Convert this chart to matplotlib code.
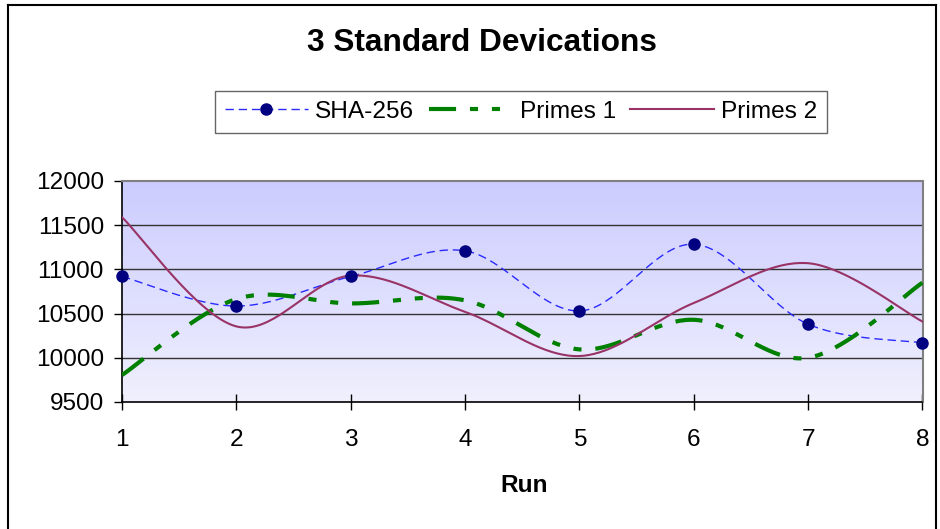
import numpy as np
import matplotlib
matplotlib.use("Agg")
import matplotlib.pyplot as plt
from matplotlib.lines import Line2D

plt.rcParams['font.family'] = ['Liberation Sans', 'DejaVu Sans']
plt.rcParams['lines.scale_dashes'] = False

# Data
runs = [1, 2, 3, 4, 5, 6, 7, 8]
sha256 = [10920, 10585, 10920, 11210, 10530, 11285, 10380, 10170]
primes1 = [9805, 10665, 10615, 10650, 10095, 10430, 10000, 10850]
primes2 = [11590, 10355, 10930, 10520, 10020, 10620, 11070, 10410]
y_ticks = [9500, 10000, 10500, 11000, 11500, 12000]
title = "3 Standard Devications"
x_title = "Run"

W, H = 940, 529
fig = plt.figure(figsize=(W / 100, H / 100), dpi=100)
fig.patch.set_facecolor('white')


def px(x, y):
    return x / W, 1 - y / H


def smooth(xs, ys, n=40):
    """Bezier smoothing through every point (Catmull-Rom style tangents)."""
    P = np.column_stack([xs, ys]).astype(float)
    out = []
    m = len(P)
    for i in range(m - 1):
        p0 = P[max(i - 1, 0)]
        p1 = P[i]
        p2 = P[i + 1]
        p3 = P[min(i + 2, m - 1)]
        c1 = p1 + (p2 - p0) / 6
        c2 = p2 - (p3 - p1) / 6
        t = np.linspace(0, 1, n, endpoint=(i == m - 2))[:, None]
        B = (1 - t) ** 3 * p1 + 3 * (1 - t) ** 2 * t * c1 + 3 * (1 - t) * t ** 2 * c2 + t ** 3 * p2
        out.append(B)
    B = np.vstack(out)
    return B[:, 0], B[:, 1]


left, right, top, bottom = 122, 922.5, 181, 402
ax = fig.add_axes([left / W, 1 - bottom / H, (right - left) / W, (bottom - top) / H])

# gradient plot area
grad = np.linspace(0, 1, 256)[:, None]
c_top = np.array([0.80, 0.80, 1.0])
c_bot = np.array([0.94, 0.94, 0.995])
img = c_top[None, None, :] * (1 - grad[..., None]) + c_bot[None, None, :] * grad[..., None]
ax.imshow(img, extent=[1, 8, 9500, 12000], aspect='auto', origin='upper', zorder=0)

ax.set_xlim(1, 8)
ax.set_ylim(9500, 12000)

for yv in y_ticks[1:-1]:
    ax.axhline(yv, color='#333333', lw=1.0, zorder=1)

sha_style = dict(color='#2a2aff', lw=1.0, dashes=(6.0, 3.5), dash_capstyle='butt')
p1_style = dict(color='#008000', lw=3.0, dashes=(19.5, 10.0, 5.8, 10.0, 5.8, 10.0),
                dash_capstyle='butt')
p2_style = dict(color='#993366', lw=1.5)
marker_style = dict(marker='o', markersize=8, markerfacecolor='#000080',
                    markeredgecolor='#000080', linestyle='none')

xs, ys = smooth(runs, sha256)
ax.plot(xs, ys, zorder=3, **sha_style)
xs, ys = smooth(runs, primes1)
ax.plot(xs, ys, zorder=3, **p1_style)
xs, ys = smooth(runs, primes2)
ax.plot(xs, ys, zorder=3, **p2_style)
ax.plot(runs, sha256, zorder=4, clip_on=False, **marker_style)

# axes styling
for s in ['top', 'right']:
    ax.spines[s].set_color('#808080')
    ax.spines[s].set_linewidth(1.5)
ax.spines['left'].set_color('black')
ax.spines['left'].set_linewidth(1.2)
ax.spines['bottom'].set_color('black')
ax.spines['bottom'].set_linewidth(1.2)

ax.set_xticks(runs)
ax.set_xticklabels([str(r) for r in runs])
ax.set_yticks(y_ticks)
ax.set_yticklabels([str(v) for v in y_ticks])
ax.tick_params(axis='x', direction='inout', length=11.5, width=1.0, pad=14.0,
               labelsize=17.6, color='black')
ax.tick_params(axis='y', direction='out', length=5.8, width=1.0, pad=7.2,
               labelsize=17.6, color='black')

# title and axis title
fig.text(*px(482, 43), title, ha='center', va='center', fontsize=22.8,
         fontweight='bold', color='black')
fig.text(*px(524, 485), x_title, ha='center', va='center', fontsize=17.6,
         fontweight='bold', color='black')

# legend
handles = [
    Line2D([], [], marker='o', markersize=8, markerfacecolor='#000080',
           markeredgecolor='#000080', **sha_style),
    Line2D([], [], **p1_style),
    Line2D([], [], **p2_style),
]
leg = fig.legend(handles, ['SHA-256', 'Primes 1', 'Primes 2'], loc='center',
                 bbox_to_anchor=px(521, 112), ncol=3, fontsize=17.6,
                 handlelength=3.4, handletextpad=0.3, columnspacing=0.6,
                 borderpad=0.42, numpoints=1, fancybox=False, frameon=True)
leg.get_frame().set_edgecolor('#404040')
leg.get_frame().set_linewidth(1.0)

# outer chart border
bx0, bx1, by0 = 8, 936, 5
fig.add_artist(Line2D([bx0 / W, bx0 / W], [0, 1 - by0 / H], color='black', lw=1.5,
                      transform=fig.transFigure))
fig.add_artist(Line2D([bx0 / W, bx1 / W], [1 - by0 / H, 1 - by0 / H], color='black', lw=1.5,
                      transform=fig.transFigure))
fig.add_artist(Line2D([bx1 / W, bx1 / W], [0, 1 - by0 / H], color='black', lw=1.5,
                      transform=fig.transFigure))

fig.savefig('out.png', dpi=100)
